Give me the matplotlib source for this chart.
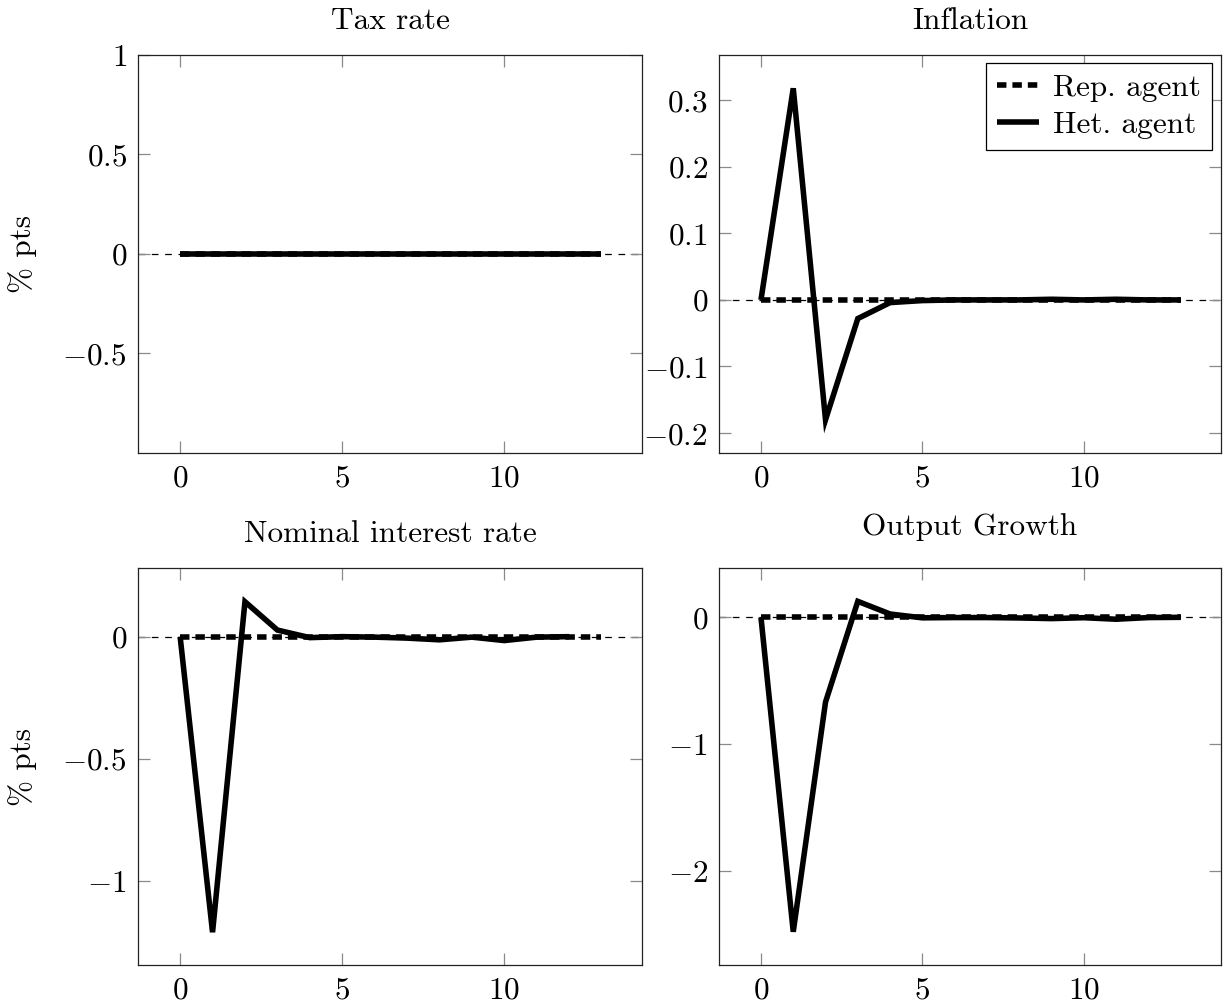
import matplotlib
matplotlib.use("Agg")
import matplotlib.pyplot as plt
from matplotlib.ticker import FixedLocator, FuncFormatter

plt.rcParams['font.family'] = ['cmr10', 'DejaVu Serif']
plt.rcParams['mathtext.fontset'] = 'cm'
plt.rcParams['axes.unicode_minus'] = True
plt.rcParams['lines.scale_dashes'] = False

# ---------------- data ----------------
horizon = [0, 1, 2, 3, 4, 5, 6, 7, 8, 9, 10, 11, 12, 13]
horizon_rate_het = [0, 1, 2, 3, 4, 5, 6, 7, 8, 9, 10, 11, 12]

titles = ["Tax rate", "Inflation", "Nominal interest rate", "Output Growth"]

tax_rep = [0, 0, 0, 0, 0, 0, 0, 0, 0, 0, 0, 0, 0, 0]
tax_het = [0, 0, 0, 0, 0, 0, 0, 0, 0, 0, 0, 0, 0, 0]

infl_rep = [0, 0, 0, 0, 0, 0, 0, 0, 0, 0, 0, 0, 0, 0]
infl_het = [0, 0.318, -0.180, -0.028, -0.004, -0.001, 0, 0, 0, 0.001, 0, 0.001, 0, 0]

rate_rep = [0, 0, 0, 0, 0, 0, 0, 0, 0, 0, 0, 0, 0, 0]
rate_het = [0, -1.21, 0.143, 0.027, -0.004, 0, -0.002, -0.006, -0.013, -0.002, -0.016, -0.002, 0]

gdp_rep = [0, 0, 0, 0, 0, 0, 0, 0, 0, 0, 0, 0, 0, 0]
gdp_het = [0, -2.48, -0.668, 0.126, 0.026, -0.004, -0.002, -0.002, -0.005, -0.01, -0.003, -0.015, -0.002, 0]

yticks_tax = [-0.5, 0, 0.5, 1]
yticks_infl = [-0.2, -0.1, 0, 0.1, 0.2, 0.3]
yticks_rate = [-1, -0.5, 0]
yticks_gdp = [-2, -1, 0]
xticks = [0, 5, 10]

legend_labels = ["Rep. agent", "Het. agent"]
ylabel_text = "% pts"

# ---------------- layout / style ----------------
W, H = 1225, 1005
FS = 22.5
fig = plt.figure(figsize=(W / 100, H / 100), dpi=100)


def px_axes(l, r, t, b):
    return fig.add_axes([l / W, 1 - b / H, (r - l) / W, (b - t) / H])


ax_tl = px_axes(138, 642, 55, 453)
ax_tr = px_axes(719, 1221, 55, 453)
ax_bl = px_axes(138, 642, 568, 965)
ax_br = px_axes(719, 1221, 568, 965)


def fmt(v, pos):
    s = "%g" % v
    return "$%s$" % s


panels = [
    (ax_tl, horizon, tax_rep, horizon, tax_het, (-1.0, 1.0), yticks_tax, titles[0], 19),
    (ax_tr, horizon, infl_rep, horizon, infl_het, (-0.230, 0.368), yticks_infl, titles[1], 19),
    (ax_bl, horizon, rate_rep, horizon_rate_het, rate_het, (-1.344, 0.281), yticks_rate, titles[2], 19),
    (ax_br, horizon, gdp_rep, horizon, gdp_het, (-2.742, 0.389), yticks_gdp, titles[3], 24),
]

handles = None
for ax, xr, yr, xh, yh, ylim, yt, title, tpad in panels:
    ax.axhline(0, color='black', lw=0.9, linestyle=(0, (4.8, 4.8)), zorder=1)
    l1, = ax.plot(xr, yr, color='black', lw=4.0, linestyle=(0, (6.8, 4.3)),
                  dash_capstyle='butt', zorder=2, label=legend_labels[0])
    l2, = ax.plot(xh, yh, color='black', lw=4.0, solid_joinstyle='miter',
                  solid_capstyle='butt', zorder=3, label=legend_labels[1])
    if handles is None:
        handles = [l1, l2]
    ax.set_xlim(-1.3, 14.25)
    ax.set_ylim(*ylim)
    ax.xaxis.set_major_locator(FixedLocator(xticks))
    ax.yaxis.set_major_locator(FixedLocator(yt))
    ax.xaxis.set_major_formatter(FuncFormatter(fmt))
    ax.yaxis.set_major_formatter(FuncFormatter(fmt))
    ax.tick_params(direction='in', top=True, right=True, length=8.5, width=0.9,
                   color='#8a8a8a', labelsize=FS, pad=8)
    for sp in ax.spines.values():
        sp.set_linewidth(0.9)
        sp.set_color('#222222')
    ax.set_title(title, fontsize=FS, pad=tpad)

for ax in (ax_tl, ax_bl):
    ax.set_ylabel(ylabel_text, fontsize=FS)
    ax.yaxis.set_label_coords(-0.2, 0.5)

leg = ax_tr.legend(handles=handles, labels=legend_labels, loc='upper right',
                   bbox_to_anchor=(0.982, 0.98), borderaxespad=0, fontsize=FS,
                   fancybox=False, framealpha=1, edgecolor='black',
                   handlelength=1.35, handletextpad=0.45, borderpad=0.35,
                   labelspacing=0.3)
leg.get_frame().set_linewidth(0.9)

fig.savefig("out.png", dpi=100)
